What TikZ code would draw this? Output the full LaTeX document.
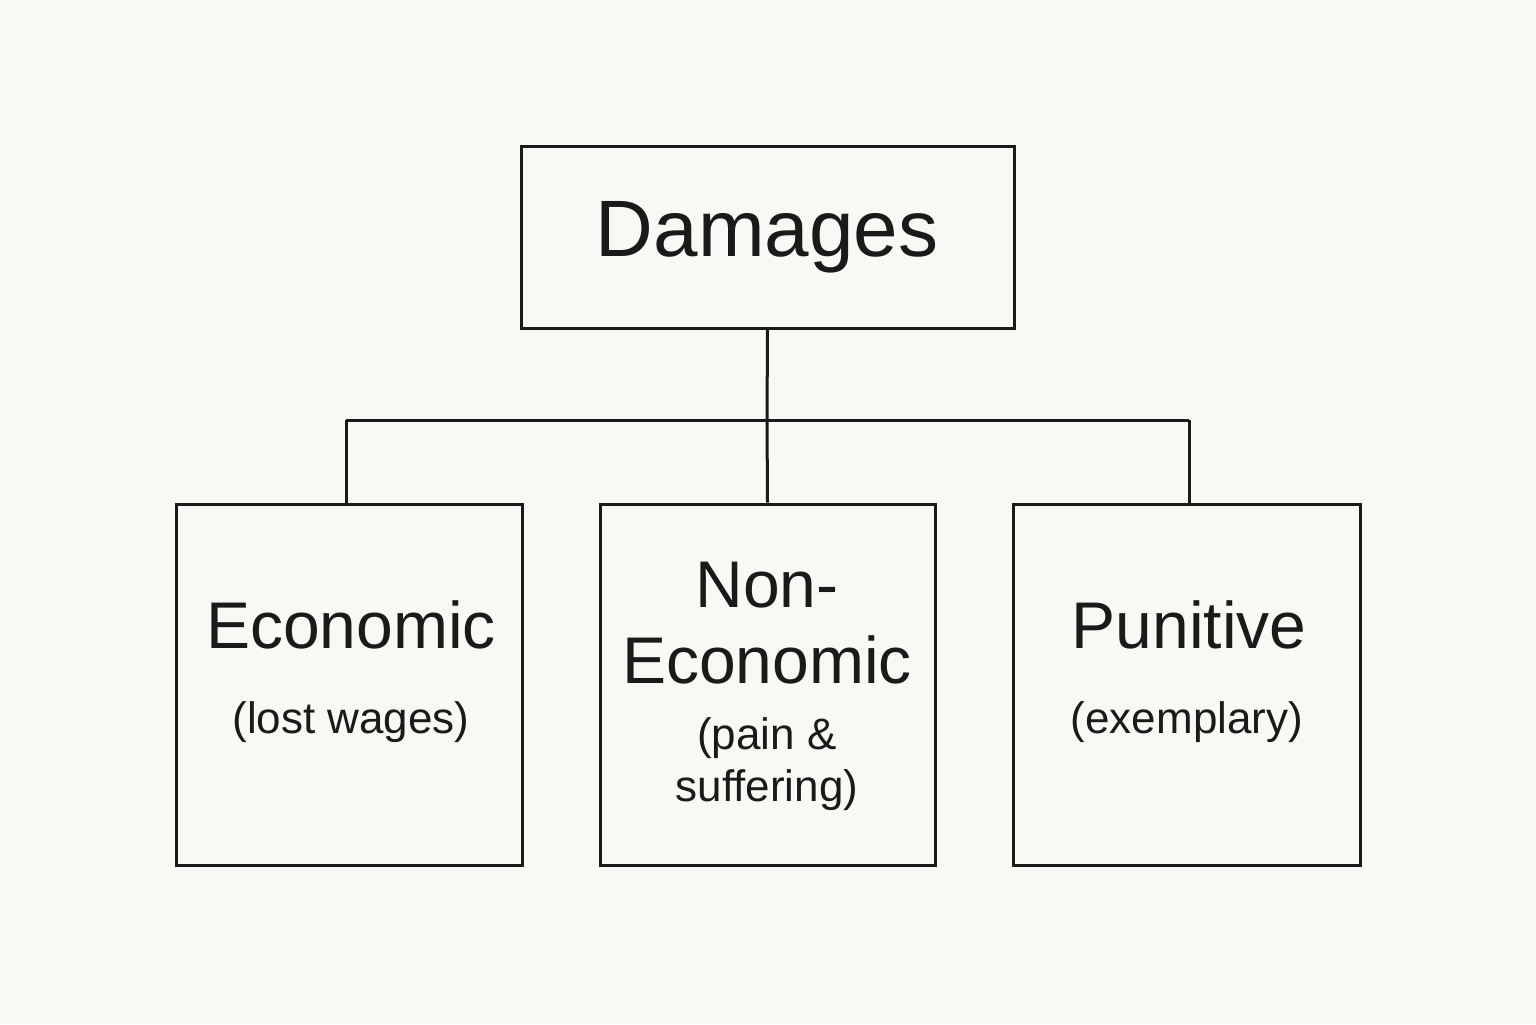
\documentclass[tikz,border=0pt]{standalone}
\usepackage{fontspec}
\setmainfont{Liberation Sans}
\definecolor{bg}{HTML}{F9F8F4}
\definecolor{ink}{HTML}{1A1A1A}
\begin{document}
\begin{tikzpicture}[x=0.5pt,y=-0.5pt,
  box/.style={draw=ink,line width=1.5pt,inner sep=0},
  big/.style={font=\fontsize{33}{36}\selectfont,text=ink},
  small/.style={font=\fontsize{22}{26}\selectfont,text=ink},
  wire/.style={draw=ink,line width=1.5pt}]
\fill[bg] (0,0) rectangle (1536,1024);
\useasboundingbox (0,0) rectangle (1536,1024);
\node[box,minimum width=246.5pt,minimum height=91pt] (dam) at (767.5,237) {};
\node[text=ink,font=\fontsize{40}{44}\selectfont] (damt) at (767,237) {Damages};
\node[box,minimum width=173pt,minimum height=180.5pt] (eco) at (349,684.5) {};
\node[box,minimum width=167.5pt,minimum height=180.5pt] (non) at (767.5,684.5) {};
\node[box,minimum width=173.5pt,minimum height=180.5pt] (pun) at (1186.5,684.5) {};
\node[big] (ecot) at (351,625) {Economic};
\node[small] (ecos) at (351,722) {(lost wages)};
\node[big] (nont1) at (767,585) {Non-};
\node[big] (nont2) at (767,660) {Economic};
\node[small] (nons1) at (767,738) {(pain \&};
\node[small] (nons2) at (767,790) {suffering)};
\node[big] (punt) at (1189,625) {Punitive};
\node[small] (puns) at (1187,722) {(exemplary)};
\coordinate (j) at (767,420);
\coordinate (jl) at (346,420);
\coordinate (jr) at (1189,420);
\draw[wire] (dam.south) -- (j);
\draw[wire] (jl) -- (jr);
\draw[wire] (jl) -- (jl |- eco.north);
\draw[wire] (j) -- (non.north);
\draw[wire] (jr) -- (jr |- pun.north);
\end{tikzpicture}
\end{document}
